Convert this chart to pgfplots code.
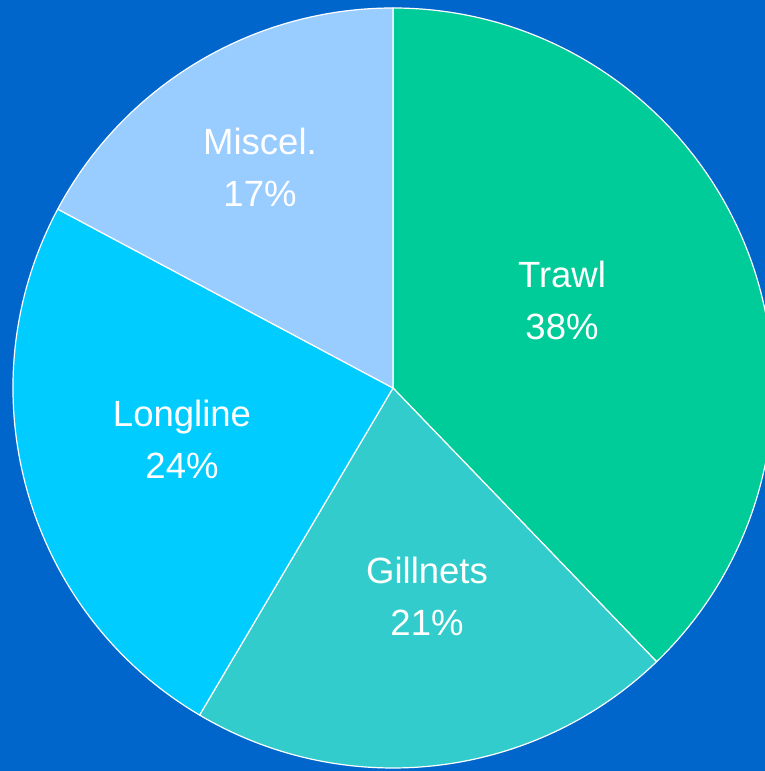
\documentclass[border=0pt]{standalone}
\usepackage{pgfplots}
\usepackage{pgfplotstable}
\pgfplotsset{compat=1.18}
\usepackage{fontspec}
\setmainfont{Liberation Sans}
\definecolor{bg}{HTML}{0066CC}
\definecolor{cTrawl}{HTML}{00CC99}
\definecolor{cGill}{HTML}{33CCCC}
\definecolor{cLong}{HTML}{00CCFF}
\definecolor{cMisc}{HTML}{99CCFF}
\pgfplotstableread{
name     val   pct  col    lx   ly
Trawl    37.8  38   cTrawl 562 300
Gillnets 20.7  21   cGill  427 596
Longline 24.3  24   cLong  182 439
Miscel.  17.2  17   cMisc  260 167
}\piedata
\begin{document}
\begin{tikzpicture}
\begin{axis}[
  width=765pt, height=771pt, scale only axis,
  xmin=0, xmax=765, ymin=0, ymax=771,
  axis lines=none, clip=true,
]
\fill[bg] (axis cs:0,0) rectangle (axis cs:765,771);
\pgfplotstablegetrowsof{\piedata}
\pgfmathtruncatemacro{\nrows}{\pgfplotsretval-1}
\def\startang{90}
\pgfplotsforeachungrouped \i in {0,...,\nrows}{
  \pgfplotstablegetelem{\i}{val}\of{\piedata}\let\val\pgfplotsretval
  \pgfplotstablegetelem{\i}{pct}\of{\piedata}\let\pct\pgfplotsretval
  \pgfplotstablegetelem{\i}{col}\of{\piedata}\let\col\pgfplotsretval
  \pgfplotstablegetelem{\i}{name}\of{\piedata}\let\nm\pgfplotsretval
  \pgfplotstablegetelem{\i}{lx}\of{\piedata}\let\lx\pgfplotsretval
  \pgfplotstablegetelem{\i}{ly}\of{\piedata}\let\ly\pgfplotsretval
  \pgfmathsetmacro{\endang}{\startang-3.6*\val}
  \edef\temp{\noexpand\filldraw[fill=\col, draw=white, line width=1.2pt, line join=round]
    (axis cs:393,383) -- ++(\startang:380pt) arc[start angle=\startang, end angle=\endang, radius=380pt] -- cycle;
    \noexpand\node[text=white, align=center, font=\noexpand\fontsize{36.5}{52}\noexpand\selectfont]
    at (axis cs:\lx,{771-\ly}) {\nm\noexpand\\\pct\noexpand\%};}
  \temp
  \global\let\startang\endang
}
\end{axis}
\end{tikzpicture}
\end{document}
